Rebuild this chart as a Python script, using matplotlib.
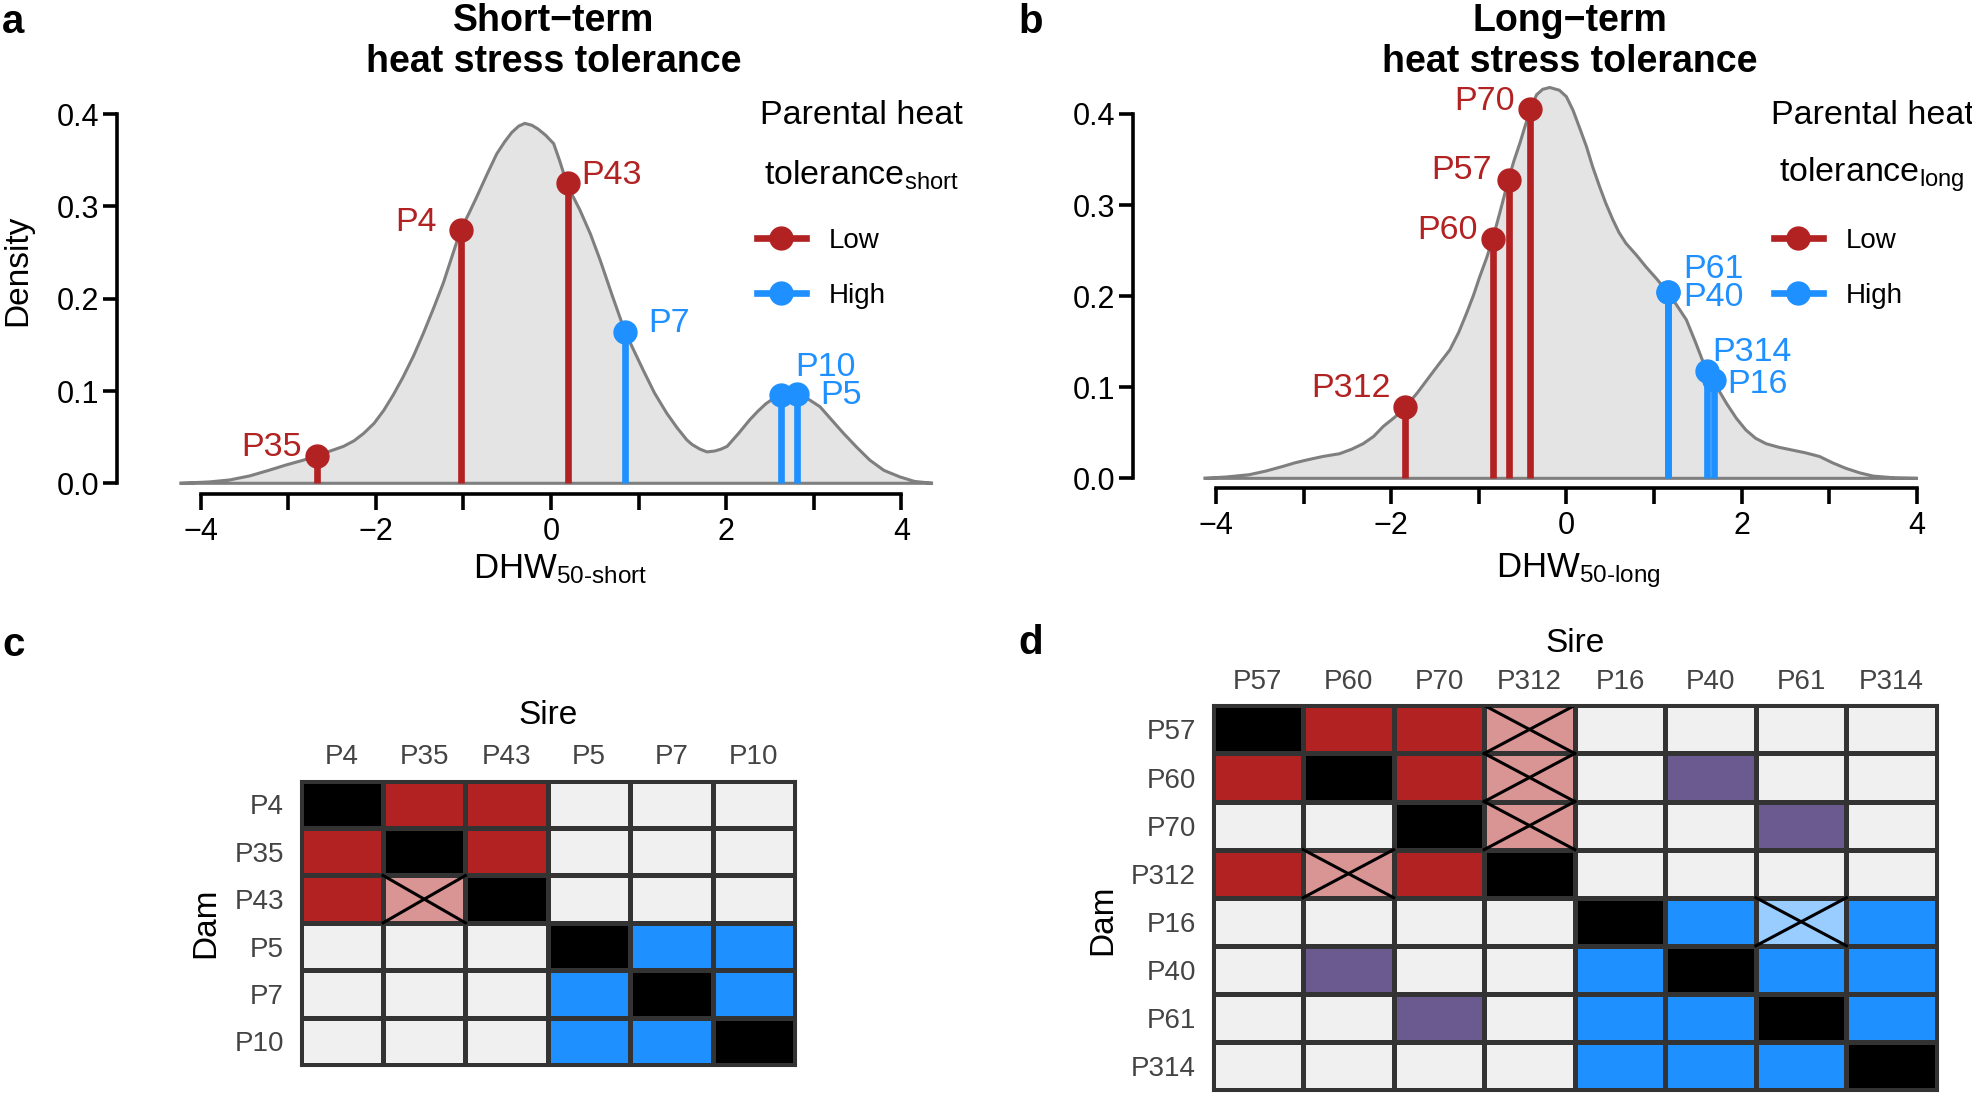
import numpy as np
import matplotlib
matplotlib.use("Agg")
import matplotlib.pyplot as plt
from matplotlib.colors import ListedColormap
from matplotlib.lines import Line2D

plt.rcParams['font.family'] = ['Liberation Sans', 'DejaVu Sans']
plt.rcParams['mathtext.fontset'] = 'custom'
plt.rcParams['mathtext.rm'] = 'Liberation Sans'
plt.rcParams['mathtext.it'] = 'Liberation Sans:italic'
plt.rcParams['mathtext.bf'] = 'Liberation Sans:bold'

# ---- density curves ----
short_x = [-4.24, -3.90, -3.67, -3.44, -3.21, -3.02, -2.83, -2.67, -2.52, -2.37,
           -2.25, -2.14, -2.02, -1.91, -1.80, -1.69, -1.57, -1.46, -1.34, -1.23,
           -1.13, -1.03, -0.94, -0.85, -0.73, -0.62, -0.53, -0.45, -0.37, -0.30,
           -0.22, -0.15, -0.06, 0.03, 0.10, 0.18, 0.25, 0.33, 0.45, 0.56,
           0.70, 0.845, 0.95, 1.05, 1.18, 1.32, 1.44, 1.55, 1.61, 1.70,
           1.78, 1.87, 1.94, 2.01, 2.14, 2.27, 2.36, 2.45, 2.54, 2.62,
           2.71, 2.81, 2.94, 3.07, 3.20, 3.34, 3.49, 3.64, 3.80, 3.98,
           4.15, 4.36]
short_y = [0.0, 0.0015, 0.0036, 0.008, 0.0144, 0.020, 0.025, 0.030, 0.035, 0.040,
           0.046, 0.054, 0.065, 0.079, 0.096, 0.115, 0.138, 0.162, 0.190, 0.217,
           0.246, 0.275, 0.292, 0.310, 0.335, 0.357, 0.370, 0.380, 0.387, 0.390,
           0.388, 0.384, 0.377, 0.368, 0.349, 0.325, 0.311, 0.296, 0.270, 0.242,
           0.203, 0.164, 0.143, 0.123, 0.098, 0.076, 0.060, 0.047, 0.042, 0.037,
           0.034, 0.035, 0.037, 0.040, 0.054, 0.069, 0.078, 0.086, 0.092, 0.096,
           0.098, 0.097, 0.091, 0.083, 0.069, 0.054, 0.039, 0.025, 0.014, 0.007,
           0.002, 0.0]

long_x = [-4.14, -3.88, -3.62, -3.43, -3.24, -3.10, -2.97, -2.78, -2.59, -2.45,
          -2.32, -2.20, -2.09, -1.96, -1.84, -1.70, -1.56, -1.45, -1.33, -1.23,
          -1.14, -1.06, -0.99, -0.91, -0.84, -0.75, -0.66, -0.60, -0.53, -0.47,
          -0.41, -0.34, -0.27, -0.19, -0.08, 0.0, 0.076, 0.15, 0.23, 0.30,
          0.38, 0.45, 0.53, 0.60, 0.68, 0.80, 0.91, 1.03, 1.16, 1.26,
          1.37, 1.48, 1.60, 1.68, 1.75, 1.83, 1.94, 2.05, 2.16, 2.28,
          2.43, 2.58, 2.73, 2.89, 3.04, 3.19, 3.35, 3.50, 3.75, 4.01]
long_y = [0.0, 0.0015, 0.004, 0.008, 0.013, 0.017, 0.020, 0.024, 0.027, 0.032,
          0.038, 0.046, 0.057, 0.067, 0.078, 0.094, 0.112, 0.126, 0.141, 0.160,
          0.181, 0.201, 0.221, 0.242, 0.263, 0.295, 0.328, 0.348, 0.368, 0.387,
          0.405, 0.421, 0.427, 0.429, 0.426, 0.419, 0.404, 0.385, 0.364, 0.342,
          0.320, 0.302, 0.284, 0.270, 0.258, 0.245, 0.232, 0.219, 0.204, 0.190,
          0.174, 0.148, 0.118, 0.108, 0.095, 0.082, 0.066, 0.053, 0.044, 0.038,
          0.034, 0.031, 0.028, 0.024, 0.017, 0.011, 0.006, 0.0025, 0.0005, 0.0]

# ---- parents ----
short_low_names = ['P35', 'P4', 'P43']
short_low_x = [-2.67, -1.03, 0.19]
short_low_y = [0.030, 0.275, 0.325]
short_high_names = ['P7', 'P10', 'P5']
short_high_x = [0.845, 2.62, 2.81]
short_high_y = [0.164, 0.096, 0.097]

long_low_names = ['P312', 'P60', 'P57', 'P70']
long_low_x = [-1.84, -0.84, -0.66, -0.41]
long_low_y = [0.078, 0.263, 0.328, 0.405]
long_high_names = ['P61', 'P40', 'P314', 'P16']
long_high_x = [1.16, 1.16, 1.60, 1.68]
long_high_y = [0.204, 0.204, 0.118, 0.108]

# ---- crossing matrices ----
# 0 none, 1 self, 2 low x low, 3 low x low (failed), 4 high x high,
# 5 high x high (failed), 6 low x high
short_parents = ['P4', 'P35', 'P43', 'P5', 'P7', 'P10']
short_cross = [[1, 2, 2, 0, 0, 0],
               [2, 1, 2, 0, 0, 0],
               [2, 3, 1, 0, 0, 0],
               [0, 0, 0, 1, 4, 4],
               [0, 0, 0, 4, 1, 4],
               [0, 0, 0, 4, 4, 1]]
long_parents = ['P57', 'P60', 'P70', 'P312', 'P16', 'P40', 'P61', 'P314']
long_cross = [[1, 2, 2, 3, 0, 0, 0, 0],
              [2, 1, 2, 3, 0, 6, 0, 0],
              [0, 0, 1, 3, 0, 0, 6, 0],
              [2, 3, 2, 1, 0, 0, 0, 0],
              [0, 0, 0, 0, 1, 4, 5, 4],
              [0, 6, 0, 0, 4, 1, 4, 4],
              [0, 0, 6, 0, 4, 4, 1, 4],
              [0, 0, 0, 0, 4, 4, 4, 1]]

RED = '#B22222'
BLUE = '#1E90FF'
cross_colors = ['#F0F0F0', '#000000', RED, '#D99594', BLUE, '#99CCFF', '#6A5A8F']

# label offsets in pixels (dx, dy up), ha
label_pos = {
    'P35': (-15, 8, 'right'), 'P4': (-24, 7, 'right'), 'P43': (14, 8, 'left'),
    'P7': (23, 8, 'left'), 'P10': (15, 27, 'left'), 'P5': (23, -2, 'left'),
    'P70': (-16, 8, 'right'), 'P57': (-17, 9, 'right'), 'P60': (-15, 8, 'right'),
    'P312': (-14, 19, 'right'), 'P61': (15, 23, 'left'), 'P40': (15, -5, 'left'),
    'P314': (6, 18, 'left'), 'P16': (14, -5, 'left'),
}

W, H = 1972, 1114
fig = plt.figure(figsize=(W / 100, H / 100), dpi=100)


def px_rect(left, top, right, bottom):
    return [left / W, 1 - bottom / H, (right - left) / W, (bottom - top) / H]


def density_panel(rect, xlim, ylim, cx, cy, groups, sub, legend_x, handle_x,
                  xlabel_xy, ylabel=True):
    ax = fig.add_axes(rect)
    ax.fill(cx, cy, facecolor='#E4E4E4', edgecolor='#7F7F7F', lw=2.2, zorder=1)
    for names, xs, ys, col in groups:
        ax.vlines(xs, 0, ys, color=col, lw=4.8, zorder=2)
        ax.plot(xs, ys, 'o', color=col, ms=16.5, zorder=3)
        for n, x, y in zip(names, xs, ys):
            dx, dy, ha = label_pos[n]
            ax.annotate(n, (x, y), xytext=(dx * 0.72, dy * 0.72),
                        textcoords='offset points', ha=ha, va='center',
                        color=col, fontsize=24.5, zorder=4)
    ax.set_xlim(*xlim)
    ax.set_ylim(*ylim)
    for s in ['top', 'right']:
        ax.spines[s].set_visible(False)
    ax.spines['left'].set_bounds(0, 0.4)
    ax.spines['bottom'].set_bounds(-4, 4)
    for s in ['left', 'bottom']:
        ax.spines[s].set_linewidth(2.6)
    ax.set_yticks([0, 0.1, 0.2, 0.3, 0.4])
    ax.set_yticklabels(['0.0', '0.1', '0.2', '0.3', '0.4'])
    ax.set_xticks(range(-4, 5))
    ax.set_xticklabels(['\u22124', '', '\u22122', '', '0', '', '2', '', '4'])
    ax.tick_params(axis='y', length=10, width=2.6, labelsize=22, pad=3)
    ax.tick_params(axis='x', length=11.5, width=2.6, labelsize=22, pad=5)
    xl, yl = xlabel_xy
    ax.text(xl, yl, 'DHW$_{\\text{50-' + sub + '}}$', transform=ax.transAxes,
            ha='center', va='baseline', fontsize=25)
    if ylabel:
        ax.text(-0.12, 0.562, 'Density', transform=ax.transAxes, rotation=90,
                ha='center', va='center', fontsize=24)
    handles = [Line2D([], [], color=RED, marker='o', lw=4.8, ms=16.5),
               Line2D([], [], color=BLUE, marker='o', lw=4.8, ms=16.5)]
    fig.text(legend_x / W, 1 - 115 / H, 'Parental heat', ha='center',
             va='center', fontsize=24.5)
    fig.text(legend_x / W, 1 - 175 / H, 'tolerance$_{\\text{' + sub + '}}$',
             ha='center', va='center', fontsize=24.5)
    ax.legend(handles, ['Low', 'High'], loc='upper left', frameon=False,
              bbox_to_anchor=(handle_x / W, 1 - 228 / H),
              bbox_transform=fig.transFigure,
              fontsize=20, handlelength=1.75, handletextpad=0.85,
              labelspacing=1.05, borderaxespad=0, borderpad=0)
    return ax


ax_a = density_panel(px_rect(117, 95.7, 940, 494), (-4.955, 4.440), (-0.0116, 0.42),
                     short_x, short_y,
                     [(short_low_names, short_low_x, short_low_y, RED),
                      (short_high_names, short_high_x, short_high_y, BLUE)],
                     'short', 861, 757, (0.538, -0.212))
ax_b = density_panel(px_rect(1133, 68.35, 1956, 488), (-4.947, 4.448), (-0.0106, 0.45),
                     long_x, long_y,
                     [(long_low_names, long_low_x, long_low_y, RED),
                      (long_high_names, long_high_x, long_high_y, BLUE)],
                     'long', 1872, 1774, (0.541, -0.213), ylabel=False)

for cx, line1 in [(554, 'Short\u2212term'), (1570, 'Long\u2212term')]:
    fig.text(cx / W, 1 - 21 / H, line1, ha='center', va='center',
             fontsize=27, fontweight='bold')
    fig.text(cx / W, 1 - 62 / H, 'heat stress tolerance', ha='center',
             va='center', fontsize=27, fontweight='bold')


def cross_panel(rect, parents, codes):
    ax = fig.add_axes(rect)
    arr = np.array(codes)
    n = len(parents)
    cmap = ListedColormap(cross_colors)
    ax.pcolormesh(np.arange(n + 1), np.arange(n + 1), arr, cmap=cmap,
                  vmin=-0.5, vmax=len(cross_colors) - 0.5,
                  edgecolors='#333333', linewidth=2.2)
    for i in range(n):
        for j in range(n):
            if arr[i, j] in (3, 5):
                ax.plot([j, j + 1], [i, i + 1], color='k', lw=2.2)
                ax.plot([j, j + 1], [i + 1, i], color='k', lw=2.2)
    ax.set_xlim(0, n)
    ax.set_ylim(n, 0)
    ax.set_xticks(np.arange(n) + 0.5)
    ax.set_xticklabels(parents)
    ax.set_yticks(np.arange(n) + 0.5)
    ax.set_yticklabels(parents)
    ax.xaxis.tick_top()
    ax.tick_params(length=0, labelsize=20, labelcolor='#444444')
    ax.tick_params(axis='x', pad=7.5)
    ax.tick_params(axis='y', pad=12)
    for s in ax.spines.values():
        s.set_linewidth(2.2)
        s.set_color('#333333')
    return ax


ax_c = cross_panel(px_rect(300.7, 780.7, 795, 1065), short_parents, short_cross)
ax_c.text(0.5, 1.231, 'Sire', transform=ax_c.transAxes, ha='center',
          va='center', fontsize=24)
ax_c.text(-0.192, 0.5, 'Dam', transform=ax_c.transAxes, ha='center',
          va='center', fontsize=24, rotation=90)

ax_d = cross_panel(px_rect(1212.6, 705.4, 1937, 1090), long_parents, long_cross)
ax_d.text(0.5, 1 + 62 / 384.6, 'Sire', transform=ax_d.transAxes, ha='center',
          va='center', fontsize=24)
ax_d.text(-110 / 724.4, 0.442, 'Dam', transform=ax_d.transAxes, ha='center',
          va='center', fontsize=24, rotation=90)

for letter, x, y in [('a', 2, 33), ('b', 1018, 33), ('c', 2, 656), ('d', 1018, 654)]:
    fig.text(x / W, 1 - y / H, letter, ha='left', va='baseline',
             fontsize=29, fontweight='bold')

fig.savefig('out.png', dpi=100)
